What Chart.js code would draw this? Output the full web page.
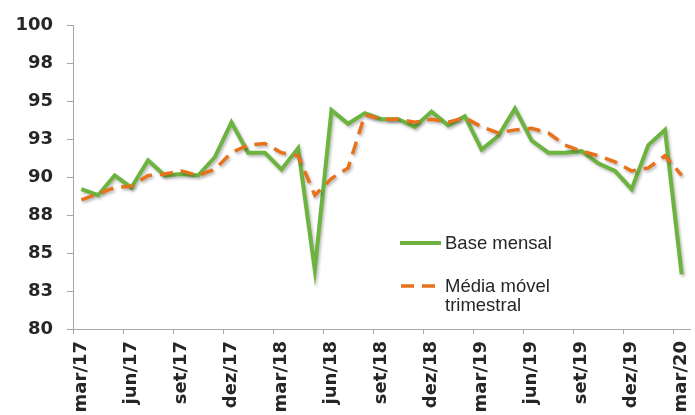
<!DOCTYPE html>
<html>
<head>
<meta charset="utf-8">
<script src="https://cdn.jsdelivr.net/npm/chart.js@4/dist/chart.umd.min.js"></script>
<style>
  html, body { margin: 0; padding: 0; background: #ffffff; }
  #wrap { width: 695px; height: 415px; position: relative; }
</style>
</head>
<body>
<div id="wrap"><canvas id="c" width="695" height="415"></canvas></div>
<script>
const categories = [
  'mar/17','abr/17','mai/17','jun/17','jul/17','ago/17','set/17','out/17','nov/17','dez/17','jan/18','fev/18',
  'mar/18','abr/18','mai/18','jun/18','jul/18','ago/18','set/18','out/18','nov/18','dez/18','jan/19','fev/19',
  'mar/19','abr/19','mai/19','jun/19','jul/19','ago/19','set/19','out/19','nov/19','dez/19','jan/20','fev/20',
  'mar/20'
];
const baseMensal = [
  89.2, 88.8, 90.1, 89.3, 91.1, 90.1, 90.2, 90.1, 91.3, 93.6, 91.6, 91.6,
  90.5, 91.9, 83.9, 94.4, 93.5, 94.2, 93.8, 93.8, 93.3, 94.3, 93.4, 94.0,
  91.8, 92.7, 94.5, 92.4, 91.6, 91.6, 91.7, 90.9, 90.4, 89.2, 92.1, 93.1,
  83.6
];
const mediaMovel = [
  88.5, 88.9, 89.3, 89.4, 90.1, 90.2, 90.4, 90.1, 90.5, 91.6, 92.1, 92.2,
  91.6, 91.4, 88.8, 89.9, 90.6, 94.1, 93.8, 93.8, 93.6, 93.8, 93.6, 93.9,
  93.3, 92.9, 93.1, 93.2, 92.9, 92.1, 91.7, 91.4, 91.0, 90.4, 90.6, 91.4,
  90.1
];
const seriesNames = ['Base mensal', 'Média móvel trimestral'];
const yTicks = { min: 80, max: 100, step: 2.5 };
const labelEvery = 3;

const AXIS_FONT = "'DejaVu Sans', Verdana, sans-serif";
const LEG_FONT = "'Liberation Sans', Arial, sans-serif";
const AXIS_GRAY = '#a6a6a6';
const TEXT = '#262626';
const DASH = [13, 8];

const shadowPlugin = {
  id: 'lineShadow',
  beforeDatasetsDraw(chart) {
    const ctx = chart.ctx;
    ctx.save();
    ctx.shadowColor = 'rgba(0,0,0,0.28)';
    ctx.shadowBlur = 3;
    ctx.shadowOffsetX = 1.5;
    ctx.shadowOffsetY = 2;
  },
  afterDatasetsDraw(chart) {
    chart.ctx.restore();
  }
};

const legendPlugin = {
  id: 'customLegend',
  afterDraw(chart) {
    const ctx = chart.ctx;
    const ds = chart.data.datasets;
    ctx.save();
    ctx.font = '18.5px ' + LEG_FONT;
    ctx.fillStyle = TEXT;
    ctx.textBaseline = 'alphabetic';
    ctx.textAlign = 'left';
    ctx.lineCap = 'butt';
    // entry 1
    ctx.strokeStyle = ds[0].borderColor;
    ctx.lineWidth = ds[0].borderWidth;
    ctx.setLineDash([]);
    ctx.beginPath(); ctx.moveTo(400, 243); ctx.lineTo(441, 243); ctx.stroke();
    ctx.fillText(ds[0].label, 445, 249);
    // entry 2
    ctx.strokeStyle = ds[1].borderColor;
    ctx.lineWidth = ds[1].borderWidth;
    ctx.setLineDash(ds[1].borderDash);
    ctx.beginPath(); ctx.moveTo(401, 286); ctx.lineTo(437, 286); ctx.stroke();
    const words = ds[1].label.split(' ');
    ctx.fillText(words.slice(0, 2).join(' '), 445, 292);
    ctx.fillText(words.slice(2).join(' '), 445, 311);
    ctx.restore();
  }
};

new Chart(document.getElementById('c'), {
  type: 'line',
  data: {
    labels: categories,
    datasets: [
      {
        label: seriesNames[0],
        data: baseMensal,
        borderColor: '#6cb33f',
        borderWidth: 4,
        pointRadius: 0,
        tension: 0,
        fill: false,
        order: 1
      },
      {
        label: seriesNames[1],
        data: mediaMovel,
        borderColor: '#e8711c',
        borderWidth: 3.5,
        borderDash: DASH,
        pointRadius: 0,
        tension: 0,
        fill: false,
        order: 0
      }
    ]
  },
  options: {
    responsive: false,
    animation: false,
    devicePixelRatio: 1,
    layout: { padding: { top: 25, right: 5, left: 0, bottom: 0 } },
    plugins: {
      legend: { display: false },
      tooltip: { enabled: false }
    },
    scales: {
      x: {
        type: 'category',
        offset: true,
        border: { display: true, color: AXIS_GRAY, width: 1 },
        grid: {
          offset: true,
          drawOnChartArea: false,
          drawTicks: true,
          tickLength: 5,
          color: (c) => (c.index % labelEvery === 0 ? AXIS_GRAY : 'rgba(0,0,0,0)')
        },
        ticks: {
          autoSkip: false,
          maxRotation: 90,
          minRotation: 90,
          padding: 7,
          color: TEXT,
          font: { family: AXIS_FONT, size: 18, weight: 'bold' },
          callback: (v, i) => (i % labelEvery === 0 ? categories[i] : '')
        },
        afterFit: (s) => { s.height = 86; s.paddingRight = 0; s.paddingLeft = 0; }
      },
      y: {
        min: yTicks.min,
        max: yTicks.max,
        border: { display: true, color: AXIS_GRAY, width: 1 },
        grid: {
          drawOnChartArea: false,
          drawTicks: true,
          tickLength: 6,
          color: AXIS_GRAY
        },
        ticks: {
          stepSize: yTicks.step,
          padding: 14,
          color: TEXT,
          font: { family: AXIS_FONT, size: 18, weight: 'bold' },
          callback: (v) => Math.round(v)
        },
        afterFit: (s) => { s.width = 73; s.paddingTop = 0; s.paddingBottom = 0; }
      }
    }
  },
  plugins: [shadowPlugin, legendPlugin]
});
</script>
</body>
</html>
